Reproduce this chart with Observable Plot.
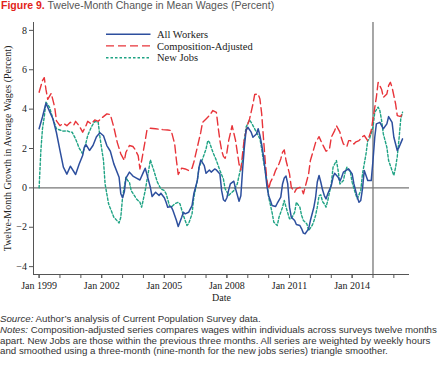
<!DOCTYPE html>
<html><head><meta charset="utf-8">
<script src="https://cdn.jsdelivr.net/npm/d3@7"></script>
<script src="https://cdn.jsdelivr.net/npm/@observablehq/plot@0.6"></script>
<style>
body{margin:0;background:#fff;}
#wrap{width:440px;height:367px;position:relative;overflow:hidden;background:#fff;}
#title{position:absolute;left:1px;top:0;font-family:"Liberation Sans",Arial,sans-serif;font-size:10.5px;line-height:11px;color:#555;white-space:nowrap;}
#title b{color:#e2231a;}
#chart{position:absolute;left:0;top:14px;}
#notes{position:absolute;left:0;top:314px;width:440px;font-family:"Liberation Sans",Arial,sans-serif;font-size:9.5px;line-height:10.8px;color:#333;white-space:nowrap;}
#notes span{display:inline-block;}
</style></head>
<body>
<div id="wrap">
  <div id="title"><b>Figure 9.</b> Twelve-Month Change in Mean Wages (Percent)</div>
  <div id="chart"></div>
  <div id="notes"><span><i>Source:</i> Author’s analysis of Current Population Survey data.</span><br><span><i>Notes:</i> Composition-adjusted series compares wages within individuals across surveys twelve months</span><br><span>apart. New Jobs are those within the previous three months. All series are weighted by weekly hours</span><br><span>and smoothed using a three-month (nine-month for the new jobs series) triangle smoother.</span></div>
</div>
<script>
// month offsets from Jan 1999, value (percent)
const allWorkers = [[0,3.0],[2,3.6],[4,4.3],[6,3.9],[8,3.5],[10,2.8],[12,1.9],[14,1.05],[16,0.7],[18,1.1],[21,0.68],[23,1.2],[25,1.64],[26,2.06],[27,2.2],[29,1.9],[31,2.15],[33,2.6],[35,2.8],[37,2.65],[39,2.15],[41,1.86],[43,1.22],[46,0.54],[47,-0.3],[48,-0.5],[49,-0.2],[50,0.5],[52,0.8],[54,0.6],[56,0.5],[58,0.4],[60,0.8],[61,1.0],[62,0.7],[64,0.03],[65,-0.44],[67,-0.22],[69,-0.39],[70,-0.27],[72,-0.5],[73,-0.73],[74,-0.98],[76,-0.95],[77,-1.15],[79,-1.66],[80,-1.96],[82,-1.49],[83,-1.24],[84,-1.32],[86,-1.24],[88,-0.9],[89,-0.3],[91,0.37],[92,1.05],[93,1.42],[95,1.13],[96,0.74],[98,0.91],[99,0.8],[101,0.96],[102,0.91],[104,0.7],[105,-0.14],[106,-0.6],[107,-0.68],[108,-0.5],[109,-0.1],[110,0.2],[112,0.34],[113,-0.05],[115,-0.68],[116,-0.4],[117,0.9],[118,2.06],[119,2.91],[120,3.08],[122,2.83],[123,2.57],[125,2.74],[126,3.0],[127,2.66],[128,2.2],[129,1.64],[130,0.9],[131,0.1],[132,-0.4],[133,-0.64],[134,-0.9],[136,-0.95],[137,-0.78],[139,-0.47],[140,0.2],[141,0.5],[142,0.6],[143,0.2],[144,-0.98],[145,-1.49],[147,-1.66],[148,-1.86],[150,-1.91],[151,-2.08],[152,-2.3],[153,-2.33],[155,-2.08],[156,-1.66],[158,-1.0],[159,-0.5],[160,0.3],[161,0.63],[162,0.3],[163,-0.1],[164,-0.39],[165,-0.56],[166,-0.3],[168,0.12],[169,0.54],[170,0.74],[172,0.54],[173,0.34],[174,0.54],[175,0.8],[177,0.91],[178,0.96],[180,0.71],[181,0.2],[183,-0.47],[184,-0.73],[185,-0.64],[186,-0.05],[187,0.88],[188,0.63],[189,0.37],[191,0.37],[192,1.39],[193,2.57],[194,3.25],[196,3.33],[197,3.16],[198,3.0],[200,3.25],[201,3.62],[203,3.33],[204,2.57],[206,1.9],[207,2.06],[209,2.49]];

const compositionAdjusted = [[0,4.86],[2,5.45],[3,5.6],[4,5.0],[5,4.5],[7,4.8],[9,4.1],[10,3.4],[12,3.16],[14,3.28],[16,3.16],[18,3.33],[20,3.2],[21,3.38],[23,3.16],[25,2.83],[27,3.16],[28,3.38],[30,3.25],[32,3.45],[34,3.38],[36,3.55],[39,3.76],[41,3.72],[43,3.08],[45,2.3],[47,1.73],[49,1.39],[50,1.81],[52,2.15],[54,2.1],[55,1.98],[57,1.64],[58,0.96],[59,1.39],[61,2.4],[62,2.91],[64,3.03],[67,3.0],[71,2.96],[74,2.94],[76,2.91],[78,2.23],[79,1.39],[80,0.68],[82,1.0],[84,0.96],[86,0.88],[88,1.0],[89,1.3],[91,2.06],[93,2.83],[94,3.33],[96,3.5],[98,3.67],[100,3.93],[102,3.84],[103,3.08],[104,2.4],[105,1.9],[106,1.6],[107,1.5],[108,1.8],[109,2.4],[111,3.16],[113,2.4],[115,1.2],[116,0.9],[117,1.73],[118,2.5],[120,3.25],[121,3.5],[123,4.26],[124,4.74],[126,4.77],[127,4.52],[128,3.76],[129,2.57],[130,1.39],[131,0.37],[132,-0.05],[133,0.29],[135,0.63],[136,0.88],[138,1.22],[139,1.47],[140,1.81],[141,1.93],[142,1.39],[144,0.71],[145,0.03],[147,-0.22],[148,-0.05],[150,0.03],[151,-0.05],[152,-0.3],[153,0.03],[155,0.71],[156,1.39],[158,1.98],[159,2.3],[161,2.6],[162,2.4],[164,2.03],[165,1.86],[167,1.98],[168,2.57],[170,2.91],[171,3.16],[173,2.83],[174,2.49],[175,2.23],[177,2.1],[178,2.4],[179,2.4],[181,2.23],[182,2.32],[184,2.4],[185,2.49],[186,2.6],[187,2.66],[189,2.4],[190,2.66],[191,2.91],[192,3.5],[194,4.6],[195,5.36],[197,5.0],[198,4.6],[200,4.77],[201,5.19],[202,5.36],[203,5.11],[205,4.26],[206,3.67],[208,3.62],[209,3.84]];

const newJobs = [[0,0],[1,1.9],[2,3.0],[3,3.6],[4,4.35],[6,4.1],[8,3.5],[10,3.0],[12,2.94],[14,2.88],[16,2.9],[18,2.83],[19,2.83],[21,2.49],[23,2.03],[25,1.73],[27,2.3],[28,2.66],[30,3.08],[32,3.38],[34,3.33],[35,2.57],[37,1.39],[38,0.2],[40,-0.81],[43,-1.49],[46,-1.78],[47,-1.49],[48,-0.47],[50,0.54],[51,0.37],[52,0.29],[53,-0.14],[56,-0.56],[58,-0.73],[59,-0.98],[61,-0.14],[63,0.88],[64,1.42],[66,0.88],[68,0.29],[70,-0.05],[72,-0.14],[73,-0.3],[75,-0.9],[76,-0.98],[78,-0.81],[80,-0.73],[81,-0.81],[83,-1.4],[85,-1.91],[86,-1.83],[88,-1.32],[89,-0.47],[91,0.37],[92,1.05],[94,1.47],[96,1.98],[97,2.4],[98,2.32],[100,1.81],[102,1.39],[104,0.88],[106,0.45],[107,-0.05],[108,-0.2],[109,-0.39],[110,-0.3],[112,-0.14],[114,0.2],[115,0.63],[117,1.39],[118,2.4],[119,3.08],[121,3.45],[122,3.33],[124,3.0],[125,2.83],[127,2.49],[128,1.98],[129,1.39],[131,0.37],[132,-0.47],[134,-1.24],[135,-1.74],[137,-1.91],[138,-1.49],[140,-0.98],[141,-0.64],[142,-0.98],[144,-1.57],[145,-1.57],[147,-1.24],[148,-0.73],[150,-0.98],[151,-1.4],[152,-1.66],[154,-1.83],[155,-2.17],[157,-1.91],[158,-1.7],[159,-1.4],[160,-0.98],[161,-0.4],[162,-0.35],[163,-0.7],[164,-0.81],[165,-0.98],[166,-0.64],[168,0.2],[169,1.05],[171,1.39],[172,0.88],[173,0.2],[175,0.37],[176,0.8],[177,1.05],[179,0.8],[180,0.29],[182,-0.3],[183,-0.56],[185,-0.14],[186,0.71],[188,1.73],[189,2.4],[190,2.49],[192,3.08],[193,3.84],[195,4.1],[196,3.93],[197,3.42],[198,2.74],[200,2.06],[201,1.39],[203,0.88],[204,0.63],[205,1.05],[206,1.6],[207,2.5],[208,3.5],[209,3.84]];

const seriesNames = ["All Workers", "Composition-Adjusted", "New Jobs"];
const seriesColors = ["#2d4f9e", "#e8343a", "#1fa384"];
const seriesDash = [null, "8,4", "2.5,2"];
const yTicks = [-4, -2, 0, 2, 4, 6, 8];
const tickYears = d3.range(1999, 2017);
const labelYears = [1999, 2002, 2005, 2008, 2011, 2014];
const breakDate = "2015-01";

const base = new Date(Date.UTC(1999, 0, 1));
const toDate = m => d3.utcMonth.offset(base, m);
const toRows = arr => arr.map(([m, v]) => ({date: toDate(m), value: v}));
const data = [allWorkers, compositionAdjusted, newJobs].map(toRows);

const xDomain = [new Date(Date.UTC(1998, 8, 25)), new Date(Date.UTC(2016, 9, 1))];
const yDomain = [-4.4, 8.4];
const axisColor = "#555";

const plot = Plot.plot({
  width: 440,
  height: 292,
  marginLeft: 33,
  marginRight: 31,
  marginTop: 8,
  marginBottom: 32,
  style: {fontFamily: "'Liberation Serif', 'Times New Roman', serif", fontSize: "10px", color: "#222", background: "#fff"},
  x: {type: "utc", domain: xDomain},
  y: {domain: yDomain},
  marks: [
    Plot.ruleY([0], {stroke: "#777", strokeWidth: 1.2}),
    Plot.ruleX([new Date(breakDate + "-01T00:00:00Z")], {stroke: "#777", strokeWidth: 1.3}),
    Plot.line(data[2], {x: "date", y: "value", stroke: seriesColors[2], strokeWidth: 1.4, strokeDasharray: seriesDash[2]}),
    Plot.line(data[1], {x: "date", y: "value", stroke: seriesColors[1], strokeWidth: 1.4, strokeDasharray: seriesDash[1]}),
    Plot.line(data[0], {x: "date", y: "value", stroke: seriesColors[0], strokeWidth: 1.5}),
    Plot.ruleX([xDomain[0]], {stroke: axisColor, strokeWidth: 1}),
    Plot.ruleY([yDomain[0]], {stroke: axisColor, strokeWidth: 1}),
    Plot.axisY({ticks: yTicks, tickSize: 4, tickPadding: 2.5, label: null, stroke: axisColor, fill: "#222"}),
    Plot.axisX({ticks: tickYears.map(y => new Date(Date.UTC(y, 0, 1))), tickSize: 4, tickFormat: () => "", label: null, stroke: axisColor}),
    Plot.axisX({ticks: labelYears.map(y => new Date(Date.UTC(y, 0, 1))), tickSize: 4, tickPadding: 3, tickFormat: d => "Jan " + d.getUTCFullYear(), label: null, stroke: axisColor, fill: "#222"}),
    Plot.text(["Date"], {frameAnchor: "bottom", dy: 23, textAnchor: "middle", lineAnchor: "middle", fill: "#222"}),
    Plot.text(["Twelve-Month Growth in Average Wages (Percent)"], {frameAnchor: "left", dx: -26, rotate: -90, textAnchor: "middle", lineAnchor: "middle", fill: "#222"})
  ]
});
document.getElementById("chart").appendChild(plot);

// legend
const svg = d3.select(plot);
const lg = svg.append("g").attr("class", "legend").attr("text-anchor", "start");
const rowY = [20.2, 31.9, 43.8];
seriesNames.forEach((name, i) => {
  lg.append("line").attr("x1", 106).attr("x2", 150.5).attr("y1", rowY[i]).attr("y2", rowY[i])
    .attr("stroke", seriesColors[i]).attr("stroke-width", i === 0 ? 1.6 : 1.4)
    .attr("stroke-dasharray", seriesDash[i]);
  lg.append("text").attr("x", 157).attr("y", rowY[i]).attr("dy", "0.35em")
    .attr("text-anchor", "start").attr("fill", "#222").attr("font-size", 10.5).text(name);
});

// fit footnote width to the reference's line length
const notes = document.getElementById("notes");
const spans = [...notes.querySelectorAll("span")];
const maxW = Math.max(...spans.map(s => s.getBoundingClientRect().width));
const fs = 9.5 * 437 / maxW;
notes.style.fontSize = fs.toFixed(2) + "px";
</script>
</body></html>
